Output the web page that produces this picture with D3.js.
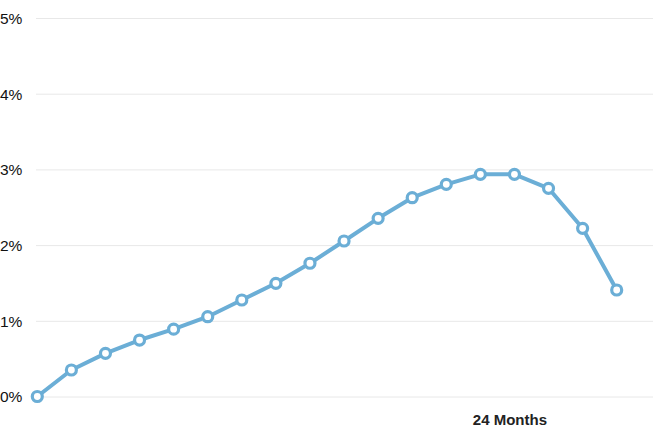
<!DOCTYPE html>
<html><head><meta charset="utf-8">
<script src="https://cdn.jsdelivr.net/npm/d3@7"></script>
<style>
html,body{margin:0;padding:0;background:#fff;}
svg{display:block;}
text{font-family:"Liberation Sans",Arial,Helvetica,sans-serif;}
</style></head>
<body><svg id="chart" width="653" height="434"></svg>
<script>
const categories = ["P1","P2","P3","P4","P5","P6","P7","P8","P9","P10","P11","P12","P13","P14","P15","P16","P17","P18"];
const values = [0, 0.35, 0.57, 0.746, 0.89, 1.054, 1.275, 1.495, 1.76, 2.054, 2.354, 2.626, 2.803, 2.935, 2.935, 2.75, 2.222, 1.407];
const yTicks = [0, 1, 2, 3, 4, 5];
const yTickLabels = ["0%","1%","2%","3%","4%","5%"];
const xLabelCategory = ["P15"];
const xLabelText = ["24 Months"];

const svg = d3.select("#chart");
const x = d3.scalePoint().domain(categories).range([37.3, 616.7]);
const y = d3.scaleLinear().domain([0, 5]).range([396.5, 18]);

// gridlines
const yAxis = d3.axisLeft(y).tickValues(yTicks).tickSize(-(653-36)).tickFormat((d,i)=>yTickLabels[i]);
const gy = svg.append("g").attr("transform","translate(36,0)").call(yAxis);
gy.select(".domain").remove();
gy.selectAll(".tick line").attr("stroke","#e8e8e8").attr("stroke-width",1);
gy.selectAll(".tick text").attr("x",-36).attr("text-anchor","start").attr("font-size",15.5).attr("fill","#111").attr("dy","0.35em");

// x label
const xAxis = d3.axisBottom(x).tickValues(xLabelCategory).tickSize(0).tickFormat((d,i)=>xLabelText[i]);
const gx = svg.append("g").attr("transform","translate(-5,411)").call(xAxis);
gx.select(".domain").remove();
gx.selectAll(".tick text").attr("font-size",15).attr("font-weight","bold").attr("fill","#222").attr("dy","0.71em");

const line = d3.line().x((d,i)=>x(categories[i])).y(d=>y(d));
svg.append("path").datum(values).attr("d",line).attr("fill","none").attr("stroke","#6baed6").attr("stroke-width",4).attr("stroke-linejoin","round");
svg.selectAll("circle.pt").data(values).enter().append("circle").attr("class","pt")
  .attr("cx",(d,i)=>x(categories[i])).attr("cy",d=>y(d)).attr("r",5)
  .attr("fill","#fff").attr("stroke","#6baed6").attr("stroke-width",3.2);
</script></body></html>
